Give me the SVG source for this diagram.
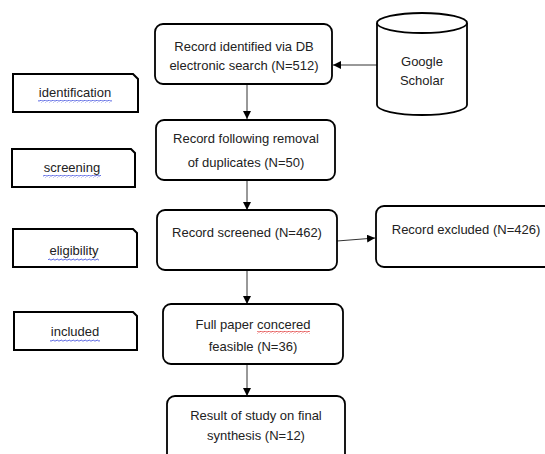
<svg xmlns="http://www.w3.org/2000/svg" width="545" height="454" viewBox="0 0 545 454">
<style>
.box{fill:#fff;stroke:#000;stroke-width:1.8}
.tag{fill:#fff;stroke:#000;stroke-width:2}
.t{font-family:"Liberation Sans",Arial,sans-serif;font-size:13px;fill:#222;text-anchor:middle}
.c{stroke:#333;stroke-width:1;fill:none}
</style>
<defs>
<marker id="ah" viewBox="0 0 10 10" refX="10" refY="5" markerWidth="8" markerHeight="8" markerUnits="userSpaceOnUse" orient="auto">
<path d="M0,0 L10,5 L0,10 Z" fill="#000"/>
</marker>
<pattern id="wb" width="4" height="3" patternUnits="userSpaceOnUse">
<path d="M0,2 Q1,0 2,1.5 T4,1.5" fill="none" stroke="#3344dd" stroke-width="0.8"/>
</pattern>
<pattern id="wr" width="4" height="3" patternUnits="userSpaceOnUse">
<path d="M0,2 Q1,0 2,1.5 T4,1.5" fill="none" stroke="#dd2222" stroke-width="0.8"/>
</pattern>
</defs>
<rect width="545" height="454" fill="#fff"/>

<g id="connectors">
<line class="c" x1="377" y1="65" x2="333" y2="65" marker-end="url(#ah)"/>
<line class="c" x1="247" y1="84" x2="247" y2="119" marker-end="url(#ah)"/>
<line class="c" x1="247" y1="180" x2="247" y2="210" marker-end="url(#ah)"/>
<line class="c" x1="337" y1="241" x2="375" y2="238" marker-end="url(#ah)"/>
<line class="c" x1="247" y1="270" x2="247" y2="304" marker-end="url(#ah)"/>
<line class="c" x1="247" y1="364" x2="247" y2="396" marker-end="url(#ah)"/>
</g>

<g id="identification">
<path class="tag" d="M13,74 H133 L138,79 V112 H13 Z"/>
<text class="t" x="75" y="97">identification</text>
<rect x="38" y="100" width="74" height="3" fill="url(#wb)"/>
</g>
<g id="screening">
<path class="tag" d="M12,149 H131 L135,153 V187 H12 Z"/>
<text class="t" x="72" y="172">screening</text>
<rect x="43" y="175" width="58" height="3" fill="url(#wb)"/>
</g>
<g id="eligibility">
<path class="tag" d="M13,229 H133 L137,233 V267 H13 Z"/>
<text class="t" x="74" y="255">eligibility</text>
<rect x="48" y="258" width="51" height="3" fill="url(#wb)"/>
</g>
<g id="included">
<path class="tag" d="M14,312 H133 L137,316 V350 H14 Z"/>
<text class="t" x="75" y="336">included</text>
<rect x="50" y="339" width="50" height="3" fill="url(#wb)"/>
</g>

<g id="google-scholar">
<path class="box" d="M377,23 A45,10 0 0 1 467,23 V105 A45,10 0 0 1 377,105 Z"/>
<path class="box" d="M377,23 A45,10 0 0 0 467,23" fill="none"/>
<text class="t" x="422" y="66">Google</text>
<text class="t" x="422" y="85">Scholar</text>
</g>

<g id="identified">
<rect class="box" x="155" y="24" width="177" height="60" rx="8"/>
<text class="t" x="244" y="51">Record identified via DB</text>
<text class="t" x="244" y="70">electronic search (N=512)</text>
</g>
<g id="duplicates">
<rect class="box" x="156" y="120" width="179" height="60" rx="8"/>
<text class="t" x="246" y="143">Record following removal</text>
<text class="t" x="246" y="167">of duplicates (N=50)</text>
</g>
<g id="screened">
<rect class="box" x="157" y="210" width="180" height="60" rx="8"/>
<text class="t" x="247" y="237">Record screened (N=462)</text>
</g>
<g id="excluded">
<rect class="box" x="376" y="206" width="180" height="61" rx="8"/>
<text class="t" x="466" y="234">Record excluded (N=426)</text>
</g>
<g id="fullpaper">
<rect class="box" x="163" y="304" width="180" height="60" rx="8"/>
<text class="t" x="253" y="329">Full paper concered</text>
<text class="t" x="253" y="351">feasible (N=36)</text>
<rect x="257" y="331" width="53" height="3" fill="url(#wr)"/>
</g>
<g id="result">
<rect class="box" x="167" y="396" width="178" height="70" rx="8"/>
<text class="t" x="256" y="420">Result of study on final</text>
<text class="t" x="256" y="440">synthesis (N=12)</text>
</g>
</svg>
